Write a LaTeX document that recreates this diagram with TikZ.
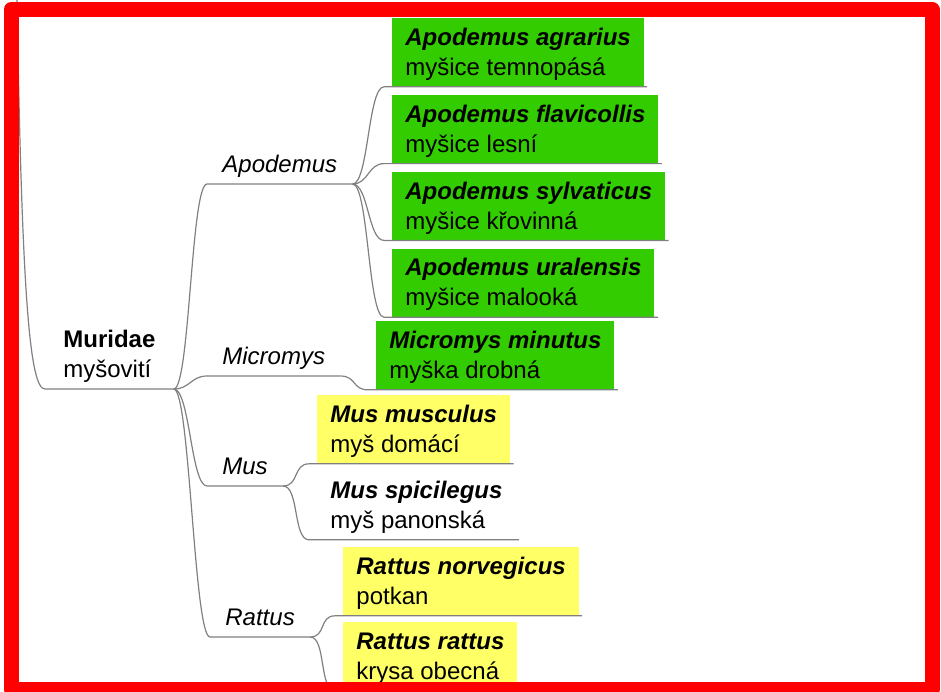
\documentclass[tikz,border=0pt]{standalone}
\usepackage{fontspec}
\setmainfont{Liberation Sans}
\usetikzlibrary{
    positioning
}
\definecolor{boxgreen}{RGB}{51,204,0}
\definecolor{boxyellow}{RGB}{255,255,102}
\definecolor{linegray}{RGB}{128,128,128}
\newcommand{\taxon}[2]{\textbf{\textit{#1}}\rule{0pt}{11pt}\\#2\rule[-3pt]{0pt}{3pt}}

\begin{document}
\begin{tikzpicture}[x=0.5pt, y=-0.5pt,
      font=\fontsize{12}{15}\selectfont,
      node distance=4pt,
      taxonbox/.style={align=left, inner xsep=6.5pt, inner ysep=2.5pt, anchor=north west},
      grbox/.style={fill=boxgreen},
      ylbox/.style={fill=boxyellow},
      genus/.style={font=\fontsize{12}{15}\selectfont\itshape, inner xsep=7.5pt, inner ysep=2.5pt, anchor=south west},
      family/.style={align=left, inner xsep=9pt, inner ysep=2.75pt, anchor=south west},
      branch/.style={draw=linegray, line width=0.6pt},
      elbow/.style={out=0, in=180, distance=8pt}]
    \useasboundingbox (0,0) rectangle (941,691);
    \node[family] (mur) at (45,389) {\textbf{Muridae}\rule{0pt}{11pt}\\myšovití\rule[-3pt]{0pt}{3pt}};
    \node[genus] (apo) at (207,184) {Apodemus\rule[-3pt]{0pt}{3pt}};
    \node[genus] (mic) at (207,376) {Micromys\rule[-3pt]{0pt}{3pt}};
    \node[genus] (mus) at (207,486) {Mus\rule[-3pt]{0pt}{3pt}};
    \node[genus] (rat) at (210,637) {Rattus\rule[-3pt]{0pt}{3pt}};
    \node[taxonbox, grbox] (agr) at (392,18) {\taxon{Apodemus agrarius}{myšice temnopásá}};
    \node[taxonbox, grbox, below=of agr.south west, anchor=north west] (fla) {\taxon{Apodemus flavicollis}{myšice lesní}};
    \node[taxonbox, grbox, below=of fla.south west, anchor=north west] (syl) {\taxon{Apodemus sylvaticus}{myšice křovinná}};
    \node[taxonbox, grbox, below=of syl.south west, anchor=north west] (ura) {\taxon{Apodemus uralensis}{myšice malooká}};
    \node[taxonbox, grbox] (min) at (376,321) {\taxon{Micromys minutus}{myška drobná}};
    \node[taxonbox, ylbox] (mmu) at (317,395) {\taxon{Mus musculus}{myš domácí}};
    \node[taxonbox] (msp) at (317,471) {\taxon{Mus spicilegus}{myš panonská}};
    \node[taxonbox, ylbox] (rno) at (343,547) {\taxon{Rattus norvegicus}{potkan}};
    \node[taxonbox, ylbox] (rra) at (343,622) {\taxon{Rattus rattus}{krysa obecná}};
    \coordinate (up) at (17,0);
    \draw[branch] (up) .. controls (22,300) and (30,389) .. (mur.south west) -- (mur.south east);
    \foreach \g in {apo,mic,mus,rat}
      \draw[branch] (mur.south east) to[elbow] (\g.south west) -- (\g.south east);
    \foreach \g/\s in {apo/agr,apo/fla,apo/syl,apo/ura,mic/min,mus/mmu,mus/msp,rat/rno,rat/rra}
      \draw[branch] (\g.south east) to[elbow] ([xshift=-4pt]\s.south west) -- ([xshift=1.5pt]\s.south east);
    \draw[red, line width=7.5pt, line join=round] (11,9.5) rectangle (932,689.5);
  \end{tikzpicture}
\end{document}
